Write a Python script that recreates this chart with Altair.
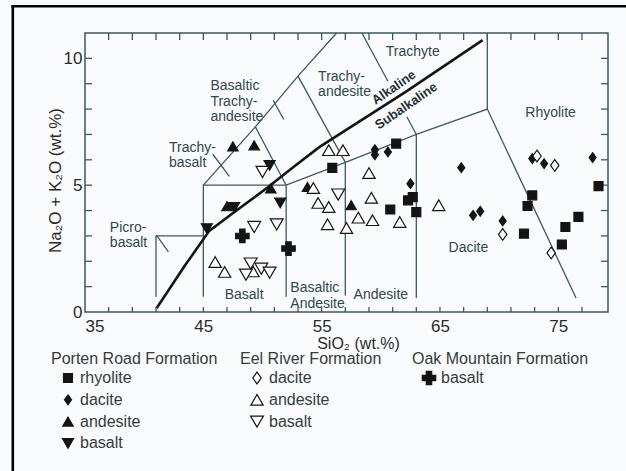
import altair as alt
import pandas as pd

# ---------------- sample analyses: SiO2 (wt.%) vs Na2O + K2O (wt.%) ----------------
porten_rhyolite_si = [55.9, 61.3, 62.7, 62.3, 60.8, 63.0, 78.4, 72.8, 72.4, 76.7, 75.6, 72.1, 75.3]
porten_rhyolite_alk = [5.68, 6.64, 4.53, 4.40, 4.04, 3.94, 4.96, 4.60, 4.18, 3.75, 3.35, 3.09, 2.66]

porten_dacite_si = [59.5, 59.5, 60.6, 62.5, 66.8, 67.8, 68.4, 70.3, 72.8, 73.8, 77.9]
porten_dacite_alk = [6.40, 6.20, 6.31, 5.06, 5.69, 3.81, 3.97, 3.59, 6.05, 5.85, 6.09]

porten_andesite_si = [47.5, 49.3, 50.7, 47.0, 53.8, 57.5]
porten_andesite_alk = [6.53, 6.57, 4.87, 4.17, 4.93, 4.21]

porten_basalt_si = [50.6, 51.5, 47.6, 45.3]
porten_basalt_alk = [5.78, 4.30, 4.12, 3.29]

eel_dacite_si = [70.3, 73.2, 74.7, 74.4]
eel_dacite_alk = [3.06, 6.15, 5.78, 2.33]

eel_andesite_si = [55.6, 56.8, 59.0, 54.3, 54.7, 55.6, 59.2, 58.1, 59.3, 61.6, 55.5, 57.1, 64.9, 46.0, 46.8, 49.2]
eel_andesite_alk = [6.38, 6.38, 5.48, 4.89, 4.30, 4.14, 4.50, 3.72, 3.62, 3.55, 3.46, 3.31, 4.21, 1.97, 1.58, 1.60]

eel_basalt_si = [50.0, 49.3, 51.2, 56.4, 49.0, 48.6, 49.9, 50.6]
eel_basalt_alk = [5.52, 3.35, 3.45, 4.63, 1.91, 1.47, 1.71, 1.55]

oak_basalt_si = [48.3, 52.2]
oak_basalt_alk = [3.00, 2.50]

# ---------------- TAS field boundaries (Le Bas et al.) ----------------
field_lines = [
    [(41, 0.6), (41, 3), (45, 3)],
    [(45, 0.6), (45, 5), (52, 5), (52, 0.6)],
    [(52, 5), (57, 5.9), (57, 0.65)],
    [(57, 5.9), (63, 7), (63, 0.55)],
    [(63, 7), (69, 8), (76.5, 0.55)],
    [(69, 8), (69, 11)],
    [(45, 5), (49.4, 7.3), (52, 5)],
    [(49.4, 7.3), (53, 9.3), (56.26, 11)],
    [(53, 9.3), (57, 5.9)],
    [(58.4, 11), (60.6, 9.1)],
    [(62.2, 7.7), (63, 7)],
    # leader ticks for the field names written outside their fields
    [(50.9, 8.35), (51.8, 7.59)],
    [(45.8, 6.22), (47.2, 5.35)],
    [(41.05, 3.02), (42.05, 2.37)],
]

# alkaline / subalkaline divide
divide_si = [41.05, 43.4, 45.5, 47.6, 50.4, 52.7, 54.8, 62.1, 68.6]
divide_alk = [0.15, 1.80, 3.20, 3.93, 4.90, 5.75, 6.50, 8.68, 10.72]

# field names
field_names = ["Picro-\nbasalt", "Trachy-\nbasalt", "Basaltic\nTrachy-\nandesite", "Trachy-\nandesite",
               "Trachyte", "Rhyolite", "Dacite", "Andesite", "Basaltic\nAndesite", "Basalt"]
name_si = [37.1, 42.1, 45.6, 54.7, 62.7, 74.35, 67.4, 60.0, 52.35, 48.45]
name_alk = [3.32, 6.47, 8.90, 9.28, 10.25, 7.85, 2.52, 0.66, 0.93, 0.66]
name_align = ["left", "left", "left", "left", "center", "center", "center", "center", "left", "center"]

# ---------------- legend structure ----------------
formations = ["Porten Road Formation", "Eel River Formation", "Oak Mountain Formation"]
legend_rocks = [["rhyolite", "dacite", "andesite", "basalt"],
                ["dacite", "andesite", "basalt"],
                ["basalt"]]

series = [
    ("Porten Road Formation", "rhyolite", porten_rhyolite_si, porten_rhyolite_alk),
    ("Porten Road Formation", "dacite", porten_dacite_si, porten_dacite_alk),
    ("Porten Road Formation", "andesite", porten_andesite_si, porten_andesite_alk),
    ("Porten Road Formation", "basalt", porten_basalt_si, porten_basalt_alk),
    ("Eel River Formation", "dacite", eel_dacite_si, eel_dacite_alk),
    ("Eel River Formation", "andesite", eel_andesite_si, eel_andesite_alk),
    ("Eel River Formation", "basalt", eel_basalt_si, eel_basalt_alk),
    ("Oak Mountain Formation", "basalt", oak_basalt_si, oak_basalt_alk),
]

# ---------------- styling ----------------
W, H = 523, 279
LINE = "#3c5a60"
TEXT = "#30474d"
INK = "#141414"
AXIS_TEXT = "#2b2b2b"
LEG_TEXT = "#333b3e"
FONT = "Liberation Sans"

tall_diamond = "M0,-1L0.72,0L0,1L-0.72,0Z"
keys = [f"{f} {r}" for f, r, _, _ in series]
shape_range = ["square", tall_diamond, "triangle-up", "triangle-down",
               tall_diamond, "triangle-up", "triangle-down", "cross"]
fill_range = [INK, INK, INK, INK, "white", "white", "white", INK]
size_range = [80, 180, 110, 110, 170, 95, 95, 110]

shape_enc = alt.Shape("key:N", scale=alt.Scale(domain=keys, range=shape_range), legend=None)
fill_enc = alt.Fill("key:N", scale=alt.Scale(domain=keys, range=fill_range), legend=None)
size_enc = alt.Size("key:N", scale=alt.Scale(domain=keys, range=size_range), legend=None)

xs = alt.Scale(domain=[35, 79.2], nice=False, zero=False)
ys = alt.Scale(domain=[0, 11], nice=False, zero=False)

x_axis = alt.Axis(
    values=[35, 45, 55, 65, 75], tickSize=0, domain=False, grid=False,
    labelFontSize=17, labelColor=AXIS_TEXT, labelPadding=6, labelFont=FONT,
    title="SiO₂  (wt.%)", titleFontSize=16, titleFontWeight="normal", titleFont=FONT,
    titleColor=AXIS_TEXT, titleX=273, titleY=31, titleBaseline="middle")
y_axis = alt.Axis(
    values=[0, 5, 10], tickSize=0, domain=False, grid=False,
    labelFontSize=17, labelColor=AXIS_TEXT, labelPadding=3, labelFont=FONT,
    title="Na₂O + K₂O (wt.%)", titleFontSize=17, titleFontWeight="normal", titleFont=FONT,
    titleColor=AXIS_TEXT, titleX=-30, titleY=147, titleAngle=270,
    titleAlign="center", titleBaseline="middle")


def X(field):
    return alt.X(field, scale=xs, axis=x_axis)


def Y(field):
    return alt.Y(field, scale=ys, axis=y_axis)


# ---------------- tables ----------------
pts = pd.DataFrame([
    {"key": f"{f} {r}", "SiO2": s, "alk": a}
    for f, r, si, alk in series for s, a in zip(si, alk)
])

seg = pd.DataFrame([
    {"line": i, "order": j, "SiO2": p[0], "alk": p[1]}
    for i, line in enumerate(field_lines) for j, p in enumerate(line)
])

divide = pd.DataFrame({"SiO2": divide_si, "alk": divide_alk, "order": range(len(divide_si))})

names = pd.DataFrame({"name": field_names, "SiO2": name_si, "alk": name_alk, "align": name_align})

alk_labels = pd.DataFrame({"text": ["Alkaline", "Subalkaline"], "SiO2": [61.1, 62.15], "alk": [8.85, 8.12]})

# legend laid out in pixels below the plot area
col_x = [-34, 155, 327]
rows = []
heads = []
for g, (form, rocks) in enumerate(zip(formations, legend_rocks)):
    heads.append({"text": form, "px": col_x[g], "py": 326})
    for r, rock in enumerate(rocks):
        rows.append({"key": f"{form} {rock}", "text": rock,
                     "px": col_x[g] + 17, "py": 345 + 21.8 * r})
leg_rows = pd.DataFrame(rows)
leg_heads = pd.DataFrame(heads)

# ---------------- layers ----------------
fields = alt.Chart(seg).mark_line(color=LINE, strokeWidth=1.3).encode(
    x=X("SiO2:Q"), y=Y("alk:Q"), detail="line:N", order="order:Q",
)

divide_line = alt.Chart(divide).mark_line(color=INK, strokeWidth=2.6).encode(
    x=X("SiO2:Q"), y=Y("alk:Q"), order="order:Q",
)

name_layers = []
for al in ["left", "center"]:
    name_layers.append(
        alt.Chart(names[names["align"] == al]).mark_text(
            font=FONT, fontSize=14, color=TEXT, align=al, baseline="middle",
            lineBreak="\n", lineHeight=15.5
        ).encode(x=X("SiO2:Q"), y=Y("alk:Q"), text="name:N")
    )

alk_text = alt.Chart(alk_labels).mark_text(
    font=FONT, fontSize=13, fontWeight="bold", color="#1f2f33", angle=325.5, baseline="middle"
).encode(x=X("SiO2:Q"), y=Y("alk:Q"), text="text:N")

# inward tick marks on all four sides
xt = pd.DataFrame({"SiO2": list(range(37, 79, 2))})
yt = pd.DataFrame({"alk": list(range(1, 11))})
tick_kw = dict(color=LINE, strokeWidth=1.3)
ticks_bottom = alt.Chart(xt).mark_rule(**tick_kw).encode(
    x=X("SiO2:Q"), y=alt.value(H), y2=alt.value(H - 5))
ticks_top = alt.Chart(xt).mark_rule(**tick_kw).encode(
    x=X("SiO2:Q"), y=alt.value(0), y2=alt.value(7))
ticks_left = alt.Chart(yt).mark_rule(**tick_kw).encode(
    y=Y("alk:Q"), x=alt.value(0), x2=alt.value(7))
ticks_right = alt.Chart(yt).mark_rule(**tick_kw).encode(
    y=Y("alk:Q"), x=alt.value(W), x2=alt.value(W - 7))

points = alt.Chart(pts).mark_point(filled=False, opacity=1, strokeWidth=1.2, stroke=INK).encode(
    x=X("SiO2:Q"), y=Y("alk:Q"), shape=shape_enc, fill=fill_enc, size=size_enc,
)

# page frame
one = pd.DataFrame({"k": [0]})
frame_top = alt.Chart(one).mark_rule(color="#000000", strokeWidth=2.6).encode(
    y=alt.value(-26.8), x=alt.value(-73.5), x2=alt.value(560))
frame_left = alt.Chart(one).mark_rule(color="#000000", strokeWidth=2.6).encode(
    x=alt.value(-72.2), y=alt.value(-28), y2=alt.value(460))

# legend
leg_head = alt.Chart(leg_heads).mark_text(
    font=FONT, fontSize=16, color=LEG_TEXT, align="left", baseline="middle"
).encode(x=alt.X("px:Q", scale=None, axis=None), y=alt.Y("py:Q", scale=None, axis=None), text="text:N")
leg_sym = alt.Chart(leg_rows).mark_point(filled=False, opacity=1, strokeWidth=1.2, stroke=INK).encode(
    x=alt.X("px:Q", scale=None, axis=None), y=alt.Y("py:Q", scale=None, axis=None),
    shape=shape_enc, fill=fill_enc, size=size_enc,
)
leg_txt = alt.Chart(leg_rows).mark_text(
    font=FONT, fontSize=16, color=LEG_TEXT, align="left", baseline="middle", dx=12
).encode(x=alt.X("px:Q", scale=None, axis=None), y=alt.Y("py:Q", scale=None, axis=None), text="text:N")

chart = alt.layer(
    fields, divide_line, *name_layers, alk_text,
    ticks_bottom, ticks_top, ticks_left, ticks_right,
    points, frame_top, frame_left, leg_head, leg_sym, leg_txt,
).properties(
    width=W, height=H,
    autosize=alt.AutoSizeParams(type="none"),
    padding={"left": 85, "top": 33, "right": 18, "bottom": 159},
    background="#fafbfd",
).configure_view(stroke=LINE, strokeWidth=1.5)

chart.save("out.html", embed_options={"renderer": "svg", "actions": False})
